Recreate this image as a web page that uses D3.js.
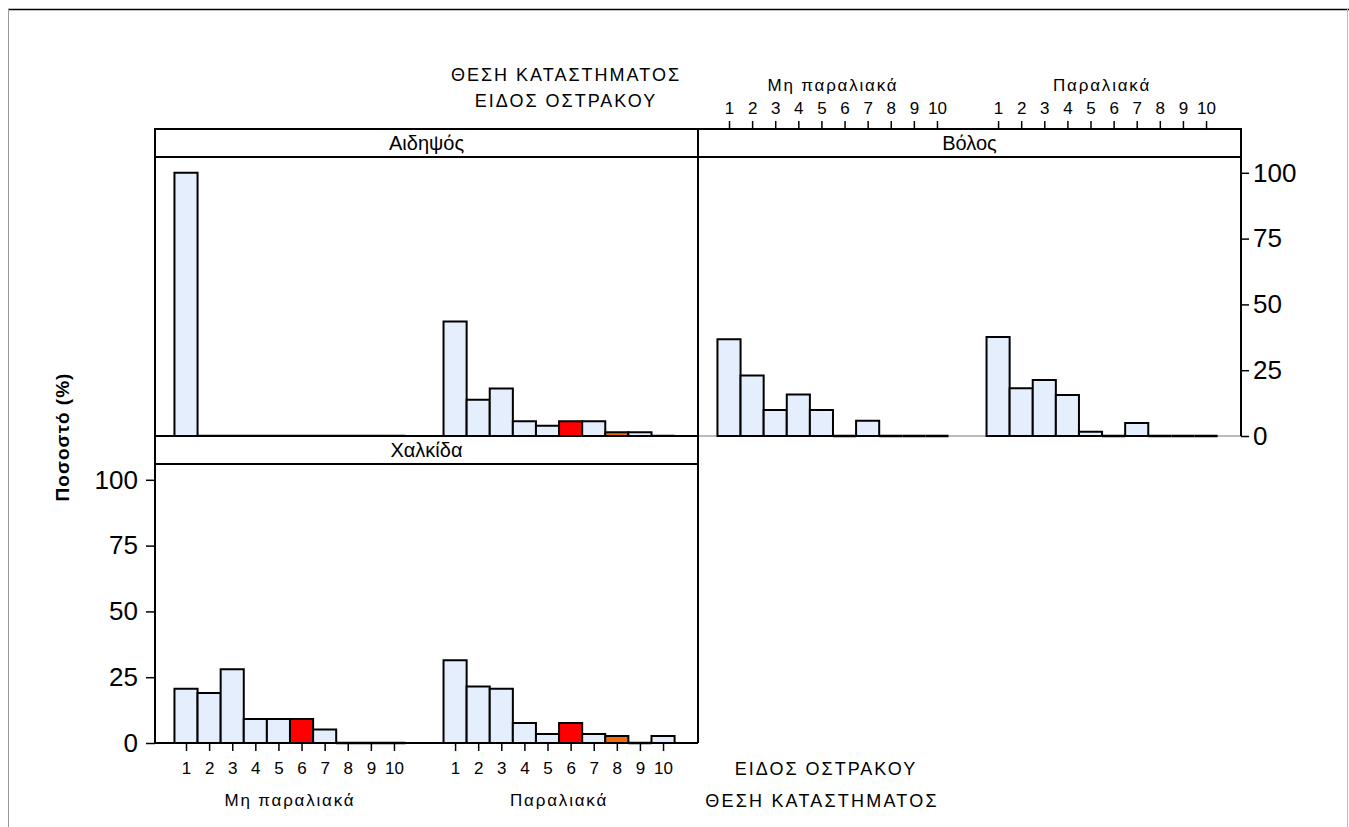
<!DOCTYPE html>
<html><head><meta charset="utf-8">
<script src="https://cdn.jsdelivr.net/npm/d3@7"></script>
<style>
body{margin:0;background:#fff}
svg{display:block}
text{font-family:"Liberation Sans",Arial,sans-serif;fill:#000}
</style>
</head><body>
<svg id="c" width="1349" height="827"></svg>
<script>
// ---- data ----
const categories = ["1","2","3","4","5","6","7","8","9","10"];
const positions = ["Μη παραλιακά","Παραλιακά"];
const sites = ["Αιδηψός","Βόλος","Χαλκίδα"];
const aidipsosMi   = [100,0,0,0,0,0,0,0,0,0];
const aidipsosPara = [43.5,13.8,18.0,5.6,3.9,5.6,5.6,1.4,1.4,0];
const volosMi      = [36.8,23.0,9.9,15.8,9.9,0,5.8,0,0,0];
const volosPara    = [37.6,18.1,21.3,15.6,1.6,0,4.9,0,0,0];
const chalkidaMi   = [20.6,19.0,28.0,9.1,9.1,9.1,5.1,0,0,0];
const chalkidaPara = [31.4,21.5,20.6,7.6,3.4,7.6,3.4,2.7,0,2.7];
const yTicks = [0,25,50,75,100];
const categoryColors = ["#e5eefc","#e5eefc","#e5eefc","#e5eefc","#e5eefc","#ff0000","#e5eefc","#f26a0c","#e5eefc","#e5eefc"];
const yTitle = "Ποσοστό (%)";
const factorA = "ΘΕΣΗ ΚΑΤΑΣΤΗΜΑΤΟΣ";
const factorB = "ΕΙΔΟΣ ΟΣΤΡΑΚΟΥ";

// ---- layout ----
const FONT = "Liberation Sans, Arial, sans-serif";
const svg = d3.select("#c");
const colX = [155, 698];
const panelW = 543;
const stripH = 28;
const rows = [{stripTop:129, plotTop:157, plotBot:436},{stripTop:436, plotTop:464, plotBot:743}];
const slots = 23.5, firstCenter = 1.342, groupOffset = 11.645;

const panels = [
  {site:sites[0], r:0, c:0, vals:[aidipsosMi, aidipsosPara]},
  {site:sites[1], r:0, c:1, vals:[volosMi, volosPara]},
  {site:sites[2], r:1, c:0, vals:[chalkidaMi, chalkidaPara]}
];

// outer frame
svg.append("line").attr("x1",8).attr("x2",1349).attr("y1",9.5).attr("y2",9.5).attr("stroke","#000").attr("stroke-width",1.5);
svg.append("line").attr("x1",8.5).attr("x2",8.5).attr("y1",9).attr("y2",827).attr("stroke","#999").attr("stroke-width",1);
svg.append("line").attr("x1",1347.5).attr("x2",1347.5).attr("y1",9).attr("y2",827).attr("stroke","#bbb").attr("stroke-width",1);

function styleAxis(ax, size) {
  ax.select(".domain").remove();
  ax.selectAll("line").attr("stroke","#000").attr("stroke-width",1.5);
  ax.selectAll("text").attr("font-size",size).attr("font-family",FONT).attr("fill","#000");
}

panels.forEach(p => {
  const R = rows[p.r];
  const x0 = colX[p.c];
  const xs = d3.scaleLinear().domain([0, slots]).range([x0, x0 + panelW]);
  const y = d3.scaleLinear().domain([0, (R.plotBot - R.plotTop) / 263.2 * 100]).range([R.plotBot, R.plotTop]);
  const slotW = xs(1) - xs(0);
  const g = svg.append("g");

  // bottom border
  g.append("line").attr("x1",x0).attr("x2",x0+panelW).attr("y1",R.plotBot).attr("y2",R.plotBot)
    .attr("stroke", p.site === sites[1] ? "#777" : "#000").attr("stroke-width", p.site === sites[1] ? 1 : 2);

  p.vals.forEach((vals, gi) => {
    const gx = d3.scaleLinear().domain([1,10]).range([xs(firstCenter + gi*groupOffset), xs(firstCenter + gi*groupOffset + 9)]);
    g.selectAll(null).data(vals).enter().append("path")
      .attr("d", (d,i) => {
        const xl = gx(i+1) - slotW/2, xr = gx(i+1) + slotW/2, yt = y(d), yb = y(0);
        return `M${xl},${yb}V${yt}H${xr}V${yb}Z`;
      })
      .attr("fill", (d,i) => categoryColors[i])
      .attr("stroke", "#000")
      .attr("stroke-width", d => d === 0 ? 2.5 : 2)
      .attr("stroke-linejoin","miter");

    if (p.r === 1) {
      const ax = g.append("g").attr("transform", `translate(0,${R.plotBot})`)
        .call(d3.axisBottom(gx).tickValues(d3.range(1,11)).tickSize(8).tickPadding(11).tickFormat(d => categories[d-1]));
      styleAxis(ax, 17);
      g.append("text").attr("x",(gx(1)+gx(10))/2).attr("y",R.plotBot+63).attr("text-anchor","middle")
        .attr("font-size",17).attr("letter-spacing",1.8).text(positions[gi]);
    } else if (p.c === 1) {
      const ax = g.append("g").attr("transform", `translate(0,${R.stripTop})`)
        .call(d3.axisTop(gx).tickValues(d3.range(1,11)).tickSize(8).tickPadding(7).tickFormat(d => categories[d-1]));
      styleAxis(ax, 17);
      g.append("text").attr("x",(gx(1)+gx(10))/2).attr("y",R.stripTop-38).attr("text-anchor","middle")
        .attr("font-size",17).attr("letter-spacing",1.8).text(positions[gi]);
    }
  });

  // strip
  g.append("rect").attr("x",x0).attr("y",R.stripTop).attr("width",panelW).attr("height",stripH)
    .attr("fill","#fff").attr("stroke","#000").attr("stroke-width",2);
  g.append("text").attr("x",x0+panelW/2).attr("y",R.stripTop+21).attr("text-anchor","middle")
    .attr("font-size",20).text(p.site);

  // side borders
  [x0, x0+panelW].forEach(xx => g.append("line").attr("x1",xx).attr("x2",xx).attr("y1",R.plotTop).attr("y2",R.plotBot)
    .attr("stroke","#000").attr("stroke-width",2));

  if (p.c === 0 && p.r === 1) {
    const ay = g.append("g").attr("transform",`translate(${x0},0)`)
      .call(d3.axisLeft(y).tickValues(yTicks).tickSize(9).tickPadding(8));
    styleAxis(ay, 26);
  }
  if (p.c === 1 && p.r === 0) {
    const ay = g.append("g").attr("transform",`translate(${x0+panelW},0)`)
      .call(d3.axisRight(y).tickValues(yTicks).tickSize(8).tickPadding(4));
    styleAxis(ay, 26);
  }
});

// factor labels
svg.append("text").attr("x",566).attr("y",81).attr("text-anchor","middle").attr("font-size",18).attr("letter-spacing",2).text(factorA);
svg.append("text").attr("x",566).attr("y",107).attr("text-anchor","middle").attr("font-size",18).attr("letter-spacing",2).text(factorB);
svg.append("text").attr("x",826).attr("y",775).attr("text-anchor","middle").attr("font-size",18).attr("letter-spacing",2).text(factorB);
svg.append("text").attr("x",822).attr("y",807).attr("text-anchor","middle").attr("font-size",18).attr("letter-spacing",2.2).text(factorA);

// y title
svg.append("text").attr("transform","translate(69,437) rotate(-90)").attr("text-anchor","middle")
  .attr("font-size",19).attr("font-weight","bold").attr("letter-spacing",1).text(yTitle);
</script>
</body></html>
